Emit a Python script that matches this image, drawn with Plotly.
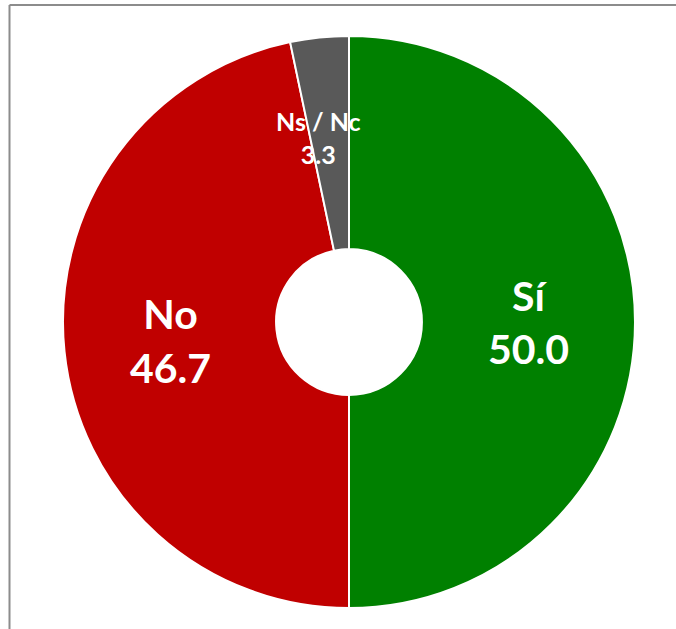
import plotly.graph_objects as go

labels = ['Sí', 'No', 'Ns / Nc']
values = [50.0, 46.7, 3.3]
colors = ['#008000', '#C00000', '#595959']

W, H = 676, 629
cx, cy, r = 349, 322, 286

fig = go.Figure()

fig.add_trace(go.Pie(
    labels=labels, values=values, sort=False, direction='clockwise', rotation=0,
    hole=0.255,
    marker=dict(colors=colors, line=dict(color='white', width=2)),
    texttemplate=['<b>%{label}<br>%{value:.1f}</b>', '<b>%{label}<br>%{value:.1f}</b>', ''],
    textposition=['inside', 'inside', 'none'],
    insidetextorientation='horizontal',
    textfont=dict(family='Lato', size=41, color='white'),
    showlegend=False, hoverinfo='label+value',
    domain=dict(x=[(cx - r) / W, (cx + r) / W], y=[(H - cy - r) / H, (H - cy + r) / H]),
))

# small slice label sits over the slice edge
fig.add_annotation(x=318 / W, y=1 - 104 / H, xref='paper', yref='paper',
                   text='<b>%s<br>%.1f</b>' % (labels[2], values[2]), showarrow=False,
                   font=dict(family='Lato', size=25, color='white'))

# frame (left and top edges only visible)
fig.add_shape(type='line', xref='paper', yref='paper', x0=9.5 / W, x1=1, y0=1 - 5 / H, y1=1 - 5 / H,
              line=dict(color='#8c8c8c', width=2))
fig.add_shape(type='line', xref='paper', yref='paper', x0=9.5 / W, x1=9.5 / W, y0=0, y1=1 - 5 / H,
              line=dict(color='#8c8c8c', width=2))

fig.update_layout(width=W, height=H, margin=dict(l=0, r=0, t=0, b=0),
                  paper_bgcolor='white', plot_bgcolor='white')

fig.write_html('out.html', config={'displayModeBar': False},
               post_script="document.body.style.margin='0';")
